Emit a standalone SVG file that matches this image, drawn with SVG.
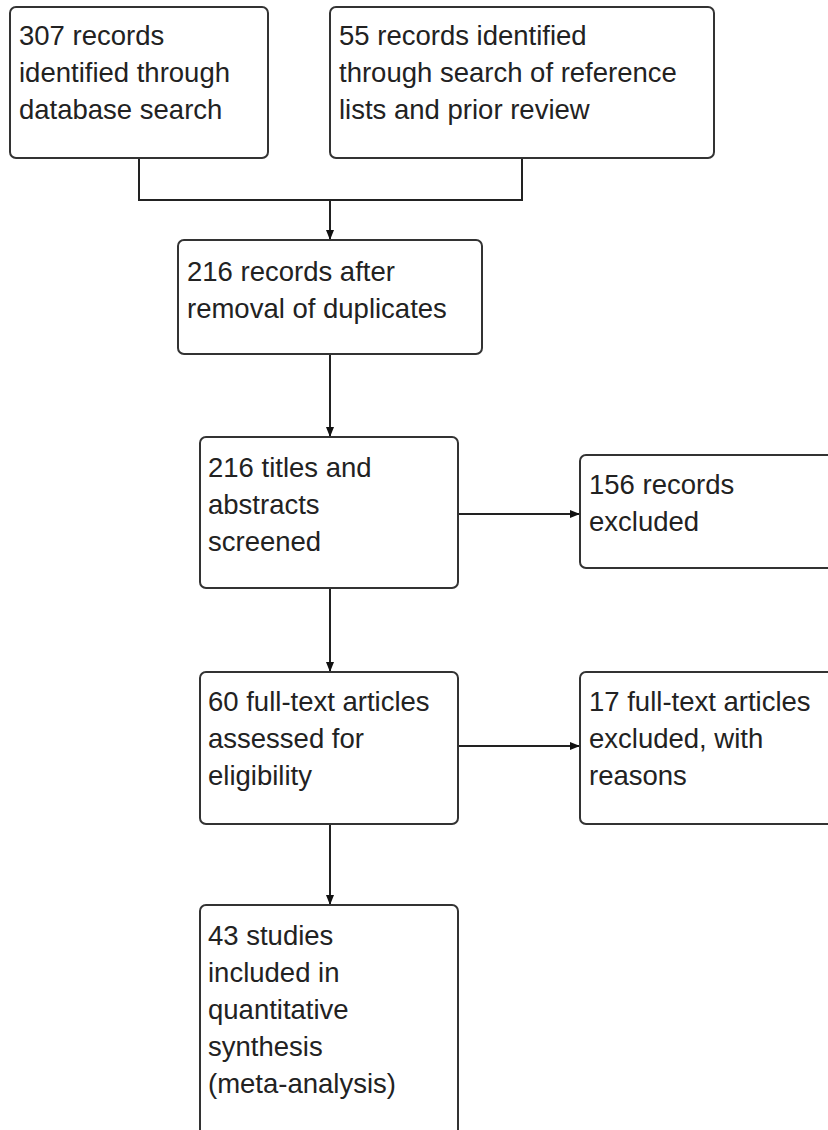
<svg xmlns="http://www.w3.org/2000/svg" width="828" height="1130" viewBox="0 0 828 1130">
<style>
.box{fill:#fff;stroke:#333;stroke-width:2}
.t{font-family:"Liberation Sans",Arial,sans-serif;font-size:27.5px;fill:#222}
.c{fill:none;stroke:#222;stroke-width:2}
</style>
<defs>
<marker id="ah" viewBox="0 0 10 10" refX="10" refY="5" markerWidth="5" markerHeight="5" orient="auto" markerUnits="strokeWidth">
<path d="M0,1 L10,5 L0,9 z" fill="#111"/>
</marker>
</defs>
<rect width="828" height="1130" fill="#fff"/>
<g id="connectors">
<path class="c" d="M139,158 V200 H522 V158"/>
<path class="c" d="M330,200 V240" marker-end="url(#ah)"/>
<path class="c" d="M330,354 V437" marker-end="url(#ah)"/>
<path class="c" d="M458,514 H580" marker-end="url(#ah)"/>
<path class="c" d="M330,588 V672" marker-end="url(#ah)"/>
<path class="c" d="M458,746 H580" marker-end="url(#ah)"/>
<path class="c" d="M330,824 V905" marker-end="url(#ah)"/>
</g>
<g id="n1"><rect class="box" x="10" y="7" width="258" height="151" rx="6"/>
<text class="t" x="19" y="45">307 records</text><text class="t" x="19" y="82">identified through</text><text class="t" x="19" y="119">database search</text></g>
<g id="n2"><rect class="box" x="330" y="7" width="384" height="151" rx="6"/>
<text class="t" x="339" y="45">55 records identified</text><text class="t" x="339" y="82">through search of reference</text><text class="t" x="339" y="119">lists and prior review</text></g>
<g id="n3"><rect class="box" x="178" y="240" width="304" height="114" rx="6"/>
<text class="t" x="187" y="281">216 records after</text><text class="t" x="187" y="318">removal of duplicates</text></g>
<g id="n4"><rect class="box" x="200" y="437" width="258" height="151" rx="6"/>
<text class="t" x="208" y="477">216 titles and</text><text class="t" x="208" y="514">abstracts</text><text class="t" x="208" y="551">screened</text></g>
<g id="n5"><rect class="box" x="580" y="455" width="260" height="113" rx="6"/>
<text class="t" x="589" y="494">156 records</text><text class="t" x="589" y="531">excluded</text></g>
<g id="n6"><rect class="box" x="200" y="672" width="258" height="152" rx="6"/>
<text class="t" x="208" y="711">60 full-text articles</text><text class="t" x="208" y="748">assessed for</text><text class="t" x="208" y="785">eligibility</text></g>
<g id="n7"><rect class="box" x="580" y="672" width="260" height="152" rx="6"/>
<text class="t" x="589" y="711">17 full-text articles</text><text class="t" x="589" y="748">excluded, with</text><text class="t" x="589" y="785">reasons</text></g>
<g id="n8"><rect class="box" x="200" y="905" width="258" height="240" rx="6"/>
<text class="t" x="208" y="945">43 studies</text><text class="t" x="208" y="982">included in</text><text class="t" x="208" y="1019">quantitative</text><text class="t" x="208" y="1056">synthesis</text><text class="t" x="208" y="1093">(meta-analysis)</text></g>
</svg>
